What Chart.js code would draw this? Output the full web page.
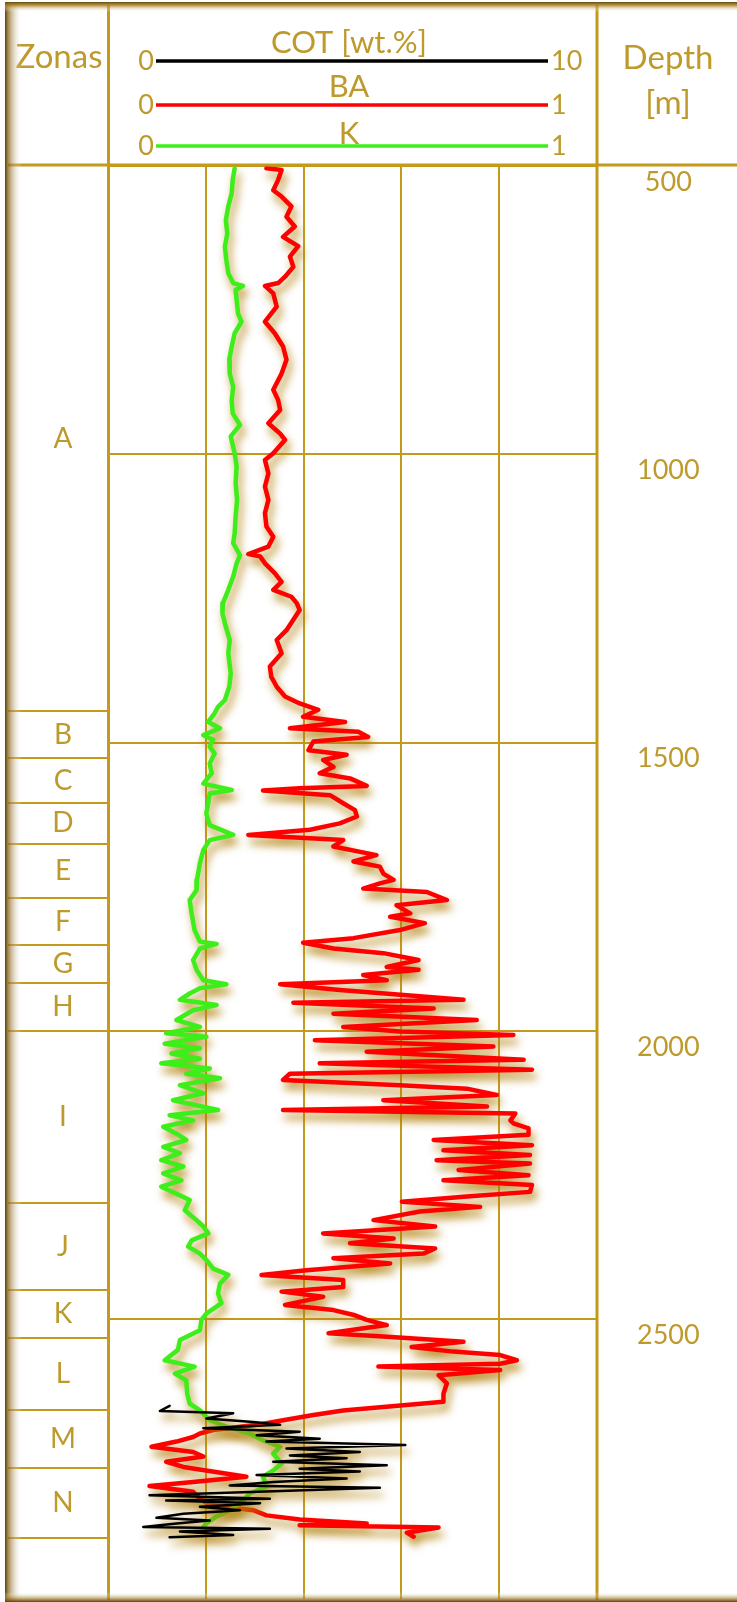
<!DOCTYPE html>
<html>
<head>
<meta charset="utf-8">
<title>Registro de pozo - COT, BA, K</title>
<script src="https://cdn.jsdelivr.net/npm/chart.js@4.4.1/dist/chart.umd.min.js"></script>
<style>
  html, body { margin: 0; padding: 0; background: #fff; }
  #wrap { width: 737px; height: 1602px; }
</style>
</head>
<body>
<div id="wrap"><canvas id="logChart" width="737" height="1602"></canvas></div>
<script>
// ---- data (depth in m) ----
const kDepth = [
  504, 524, 547, 570, 594, 617, 640, 663, 686, 703, 708, 715, 732, 756, 770, 790, 813, 836, 860, 883, 906,
  929, 949, 969, 998, 1021, 1050, 1079, 1108, 1137, 1154, 1175, 1189, 1212, 1235, 1258, 1276, 1299, 1322,
  1345, 1380, 1403, 1426, 1438, 1449, 1464, 1475, 1487, 1495, 1507, 1519, 1536, 1553, 1571, 1582, 1588, 1605, 1623, 1643, 1660, 1669, 1686, 1709, 1738,
  1756, 1773, 1796, 1825, 1845, 1849, 1857, 1877, 1894, 1912, 1919, 1926, 1935, 1946, 1955, 1964, 1981, 1993, 2004, 2010, 2022, 2030, 2039, 2048, 2056, 2065, 2074, 2082, 2094, 2108, 2120, 2137, 2146, 2155,
  2166, 2178, 2189, 2201, 2212, 2224, 2235, 2247, 2259, 2270, 2285, 2293, 2311, 2328, 2339, 2351, 2363, 2374, 2386, 2397, 2412, 2423, 2438, 2455, 2472, 2490, 2501, 2519, 2536, 2553, 2571,
  2582, 2594, 2606, 2629, 2646, 2658, 2675, 2686, 2698, 2710, 2721, 2733, 2750, 2762, 2773, 2790, 2802, 2819, 2831, 2842, 2854, 2860
];
const kValue = [
  0.259, 0.255, 0.253, 0.246, 0.241, 0.244, 0.239, 0.242, 0.246, 0.256, 0.276, 0.261, 0.263, 0.266, 0.273, 0.259, 0.253, 0.248, 0.249, 0.256, 0.253,
  0.255, 0.270, 0.251, 0.259, 0.263, 0.261, 0.264, 0.261, 0.259, 0.256, 0.270, 0.263, 0.256, 0.246, 0.235, 0.234, 0.241, 0.249,
  0.246, 0.251, 0.248, 0.239, 0.225, 0.218, 0.205, 0.229, 0.195, 0.215, 0.208, 0.218, 0.208, 0.212, 0.195, 0.253, 0.208, 0.205, 0.201, 0.208, 0.256, 0.208, 0.195, 0.188, 0.182,
  0.181, 0.167, 0.171, 0.177, 0.188, 0.222, 0.188, 0.174, 0.181, 0.195, 0.242, 0.188, 0.167, 0.147, 0.222, 0.174, 0.140, 0.188, 0.119, 0.201, 0.116, 0.188, 0.130, 0.188, 0.109, 0.208, 0.160, 0.229, 0.147, 0.195, 0.133, 0.225, 0.126, 0.174,
  0.113, 0.140, 0.160, 0.113, 0.147, 0.109, 0.154, 0.113, 0.150, 0.109, 0.147, 0.167, 0.157, 0.181, 0.195, 0.205, 0.171, 0.164, 0.188, 0.201, 0.215, 0.246, 0.229, 0.225, 0.232, 0.201, 0.191, 0.188, 0.147, 0.143, 0.116,
  0.177, 0.137, 0.160, 0.162, 0.167, 0.188, 0.208, 0.242, 0.290, 0.317, 0.352, 0.338, 0.355, 0.338, 0.317, 0.324, 0.290, 0.270, 0.249, 0.222, 0.201, 0.195
];

const baDepth = [
  504, 507, 524, 542, 553, 570, 588, 605, 623, 639, 657, 675, 692, 703, 708, 721, 744, 770, 790, 813, 836, 860, 888, 906,
  923, 946, 964, 975, 998, 1010, 1033, 1056, 1079, 1102, 1125, 1143, 1160, 1173, 1177, 1189, 1206, 1221, 1235, 1247, 1258, 1270, 1287, 1305, 1322,
  1345, 1368, 1386, 1403, 1420, 1432, 1443, 1455, 1464, 1475, 1481, 1490, 1498, 1513, 1521, 1530, 1542, 1553, 1562, 1575, 1579, 1583, 1591, 1605, 1617, 1628, 1640, 1651, 1660, 1669, 1680, 1695, 1706, 1715, 1727, 1738,
  1744, 1753, 1759, 1773, 1782, 1796, 1802, 1813, 1825, 1839, 1847, 1857, 1865, 1877, 1889, 1894, 1903, 1912, 1919, 1929, 1938, 1946, 1951, 1961, 1970, 1981, 1993, 2001, 2007, 2016, 2027, 2036, 2050, 2056, 2067, 2074, 2085, 2094, 2100, 2111, 2120, 2131, 2137, 2143, 2155,
  2160, 2169, 2180, 2189, 2198, 2207, 2215, 2224, 2230, 2241, 2250, 2259, 2267, 2279, 2287, 2296, 2305, 2313, 2328, 2339, 2351, 2360, 2368, 2377, 2386, 2394, 2403, 2415, 2423, 2432, 2444, 2452, 2461, 2475, 2484, 2493, 2501, 2510, 2524, 2530, 2539, 2548, 2556, 2562, 2571,
  2577, 2582, 2588, 2597, 2611, 2629, 2643, 2649, 2658, 2666, 2675, 2683, 2692, 2698, 2704, 2712, 2721, 2730, 2738, 2747, 2756, 2773, 2782, 2789, 2799, 2811, 2822, 2831, 2840, 2847, 2854, 2857, 2861, 2870, 2877
];
const baValue = [
  0.324, 0.355, 0.348, 0.338, 0.355, 0.375, 0.365, 0.382, 0.358, 0.389, 0.372, 0.379, 0.362, 0.348, 0.321, 0.338, 0.345, 0.321, 0.341, 0.358, 0.365, 0.355, 0.338, 0.348,
  0.352, 0.328, 0.352, 0.362, 0.338, 0.321, 0.328, 0.321, 0.328, 0.321, 0.324, 0.338, 0.328, 0.287, 0.311, 0.321, 0.341, 0.355, 0.338, 0.375, 0.386, 0.392, 0.379, 0.365, 0.345,
  0.355, 0.331, 0.334, 0.345, 0.362, 0.392, 0.430, 0.399, 0.485, 0.372, 0.512, 0.532, 0.420, 0.410, 0.488, 0.440, 0.461, 0.433, 0.495, 0.529, 0.392, 0.317, 0.454, 0.481, 0.505, 0.509, 0.474, 0.413, 0.287, 0.481, 0.461, 0.549, 0.502, 0.556, 0.563, 0.584,
  0.556, 0.522, 0.652, 0.693, 0.590, 0.618, 0.577, 0.648, 0.597, 0.502, 0.399, 0.461, 0.563, 0.635, 0.570, 0.635, 0.522, 0.570, 0.352, 0.474, 0.611, 0.727, 0.379, 0.666, 0.461, 0.754, 0.481, 0.597, 0.829, 0.423, 0.788, 0.529, 0.850, 0.433, 0.867, 0.372, 0.358, 0.597, 0.734, 0.795, 0.563, 0.775, 0.358, 0.833, 0.823,
  0.829, 0.860, 0.860, 0.666, 0.867, 0.686, 0.863, 0.672, 0.863, 0.717, 0.860, 0.686, 0.867, 0.863, 0.734, 0.601, 0.761, 0.638, 0.543, 0.669, 0.440, 0.584, 0.495, 0.669, 0.645, 0.461, 0.577, 0.406, 0.314, 0.481, 0.481, 0.355, 0.440, 0.362, 0.461, 0.505, 0.529, 0.570, 0.451, 0.563, 0.727, 0.621, 0.706, 0.802, 0.836,
  0.802, 0.553, 0.802, 0.676, 0.693, 0.686, 0.686, 0.604, 0.481, 0.420, 0.358, 0.304, 0.215, 0.188, 0.174, 0.140, 0.089, 0.174, 0.195, 0.119, 0.154, 0.283, 0.174, 0.085, 0.174, 0.188, 0.208, 0.297, 0.324, 0.392, 0.529, 0.392, 0.676, 0.611, 0.625
];

const cotDepth = [
  2650, 2659, 2663, 2672, 2678, 2683, 2689, 2695, 2701, 2707, 2712, 2718, 2724, 2730, 2736, 2741, 2747, 2753, 2759, 2764, 2770,
  2776, 2782, 2788, 2792, 2798, 2805, 2811, 2814, 2819, 2825, 2831, 2837, 2844, 2849, 2854, 2860, 2863, 2868, 2874, 2878
];
const cotValue = [
  1.26, 1.06, 2.56, 2.01, 2.97, 3.52, 1.95, 3.92, 3.04, 4.33, 3.24, 6.08, 3.65, 5.15, 3.72, 4.88, 3.38, 5.70, 3.92, 5.15, 3.04,
  4.88, 3.38, 2.49, 5.56, 3.38, 0.85, 3.31, 1.19, 3.11, 1.88, 2.70, 1.54, 0.99, 2.08, 1.40, 0.72, 3.31, 1.47, 2.56, 1.26
];

const depthTicks = [500, 1000, 1500, 2000, 2500];
const zoneNames = ['A', 'B', 'C', 'D', 'E', 'F', 'G', 'H', 'I', 'J', 'K', 'L', 'M', 'N'];
const zoneLimits = [500, 1445, 1527, 1605, 1675, 1770, 1851, 1917, 2000, 2299, 2449, 2533, 2657, 2757, 2880];

// ---- styling ----
const GOLD = '#C49A1C';
const GOLD_TEXT = '#BE9A2C';
const FONT = 'Lato, "Open Sans", sans-serif';

function toPoints(depths, values) {
    return depths.map((d, i) => ({ x: values[i], y: d }));
}

function drawText(ctx, str, x, y, size, align, base) {
    ctx.font = size + 'px ' + FONT;
    ctx.textAlign = align || 'center';
    ctx.textBaseline = base || 'alphabetic';
    ctx.fillText(str, x, y);
}

function drawLine(ctx, x1, y1, x2, y2) {
    ctx.beginPath();
    ctx.moveTo(x1, y1);
    ctx.lineTo(x2, y2);
    ctx.stroke();
}

// golden glow under every curve
const curveShadow = {
    id: 'curveShadow',
    beforeDatasetDraw(chart) {
        const ctx = chart.ctx;
        ctx.save();
        ctx.shadowColor = 'rgba(175,125,5,0.85)';
        ctx.shadowBlur = 9;
        ctx.shadowOffsetX = 3;
        ctx.shadowOffsetY = 7;
    },
    afterDatasetDraw(chart) {
        chart.ctx.restore();
    }
};

// header, zone column and frame
const logFrame = {
    id: 'logFrame',
    beforeDraw(chart) {
        const ctx = chart.ctx;
        ctx.save();
        ctx.fillStyle = '#fff';
        ctx.fillRect(0, 0, chart.width, chart.height);
        ctx.restore();
    },
    afterDraw(chart) {
        const { ctx, chartArea: area, scales } = chart;
        const y = scales.y;
        const W = chart.width, H = chart.height;
        ctx.save();

        // zone column
        ctx.strokeStyle = GOLD;
        ctx.lineWidth = 2;
        zoneLimits.forEach((d, i) => {
            if (i === 0) return;
            const py = Math.round(y.getPixelForValue(d));
            drawLine(ctx, 8, py, area.left, py);
        });
        ctx.fillStyle = GOLD_TEXT;
        zoneNames.forEach((name, i) => {
            const mid = (y.getPixelForValue(zoneLimits[i]) + y.getPixelForValue(zoneLimits[i + 1])) / 2;
            drawText(ctx, name, 63, mid, 28, 'center', 'middle');
        });

        // header
        ctx.lineWidth = 3;
        ctx.strokeStyle = GOLD;
        drawLine(ctx, 8, area.top - 1, W, area.top - 1);
        drawLine(ctx, area.left + 0.5, 5, area.left + 0.5, H - 2);
        drawLine(ctx, area.right, 5, area.right, H - 2);

        ctx.fillStyle = GOLD_TEXT;
        drawText(ctx, 'Zonas', 59, 68, 33);
        drawText(ctx, 'Depth', 668, 69, 33);
        drawText(ctx, '[m]', 668, 114, 33);

        const rows = [
            { ds: 0, lineY: 61, base: 53 },
            { ds: 2, lineY: 105, base: 97 },
            { ds: 1, lineY: 146, base: 144 }
        ];
        rows.forEach(r => {
            const ds = chart.data.datasets[r.ds];
            const sc = scales[ds.xAxisID];
            ctx.strokeStyle = ds.borderColor;
            ctx.lineWidth = 3.5;
            drawLine(ctx, 156, r.lineY, 548, r.lineY);
            ctx.fillStyle = GOLD_TEXT;
            drawText(ctx, ds.label, 349, r.base, 31);
            drawText(ctx, String(sc.min), 154, r.lineY, 27, 'right', 'middle');
            drawText(ctx, String(sc.max), 551, r.lineY, 27, 'left', 'middle');
        });

        // outer frame shading
        const gl = ctx.createLinearGradient(5, 0, 22, 0);
        gl.addColorStop(0, 'rgba(90,65,12,1)');
        gl.addColorStop(0.2, 'rgba(140,105,30,0.75)');
        gl.addColorStop(1, 'rgba(255,255,255,0)');
        ctx.fillStyle = gl;
        ctx.fillRect(5, 3, 17, H - 3);

        const gt = ctx.createLinearGradient(0, 2, 0, 12);
        gt.addColorStop(0, 'rgba(100,75,15,1)');
        gt.addColorStop(0.35, 'rgba(170,130,30,0.8)');
        gt.addColorStop(1, 'rgba(255,255,255,0)');
        ctx.fillStyle = gt;
        ctx.fillRect(5, 2, W - 5, 10);

        const gb = ctx.createLinearGradient(0, H, 0, H - 10);
        gb.addColorStop(0, 'rgba(90,65,12,1)');
        gb.addColorStop(0.3, 'rgba(150,115,30,0.7)');
        gb.addColorStop(1, 'rgba(255,255,255,0)');
        ctx.fillStyle = gb;
        ctx.fillRect(5, H - 10, W - 5, 10);

        ctx.restore();
    }
};

document.addEventListener('DOMContentLoaded', function() {
    const ctx = document.getElementById('logChart').getContext('2d');
    new Chart(ctx, {
        type: 'scatter',
        data: {
            datasets: [
                {
                    label: 'COT [wt.%]',
                    data: toPoints(cotDepth, cotValue),
                    xAxisID: 'xc',
                    borderColor: '#000000',
                    borderWidth: 2.5
                },
                {
                    label: 'K',
                    data: toPoints(kDepth, kValue),
                    xAxisID: 'x',
                    borderColor: '#3DEE1A',
                    borderWidth: 4.5
                },
                {
                    label: 'BA',
                    data: toPoints(baDepth, baValue),
                    xAxisID: 'x',
                    borderColor: '#FF0000',
                    borderWidth: 4.5
                }
            ].map(ds => Object.assign(ds, {
                showLine: true,
                pointRadius: 0,
                pointHoverRadius: 0,
                tension: 0,
                borderJoinStyle: 'round',
                borderCapStyle: 'round'
            }))
        },
        options: {
            responsive: false,
            animation: false,
            devicePixelRatio: 1,
            layout: { padding: { left: 108, top: 166, right: 0, bottom: 3 } },
            plugins: {
                legend: { display: false },
                tooltip: { enabled: false }
            },
            events: [],
            scales: {
                x: {
                    type: 'linear',
                    position: 'bottom',
                    min: 0,
                    max: 1,
                    ticks: { display: false, stepSize: 0.2 },
                    grid: { color: GOLD, lineWidth: 2, drawTicks: false },
                    border: { display: false },
                    afterFit: s => { s.height = 0; }
                },
                xc: {
                    type: 'linear',
                    position: 'top',
                    min: 0,
                    max: 10,
                    display: false
                },
                y: {
                    type: 'linear',
                    position: 'right',
                    reverse: true,
                    min: 500,
                    max: 2985,
                    afterBuildTicks: s => { s.ticks = depthTicks.map(v => ({ value: v })); },
                    ticks: {
                        color: GOLD_TEXT,
                        font: { family: FONT, size: 27 },
                        crossAlign: 'center',
                        padding: 40,
                        labelOffset: 16,
                        callback: v => String(v)
                    },
                    grid: { color: GOLD, lineWidth: 2, drawTicks: false },
                    border: { display: false },
                    afterFit: s => {
                        s.width = 140;
                        s.paddingTop = 0;
                        s.paddingBottom = 0;
                    }
                }
            }
        },
        plugins: [curveShadow, logFrame]
    });
});
</script>
</body>
</html>
